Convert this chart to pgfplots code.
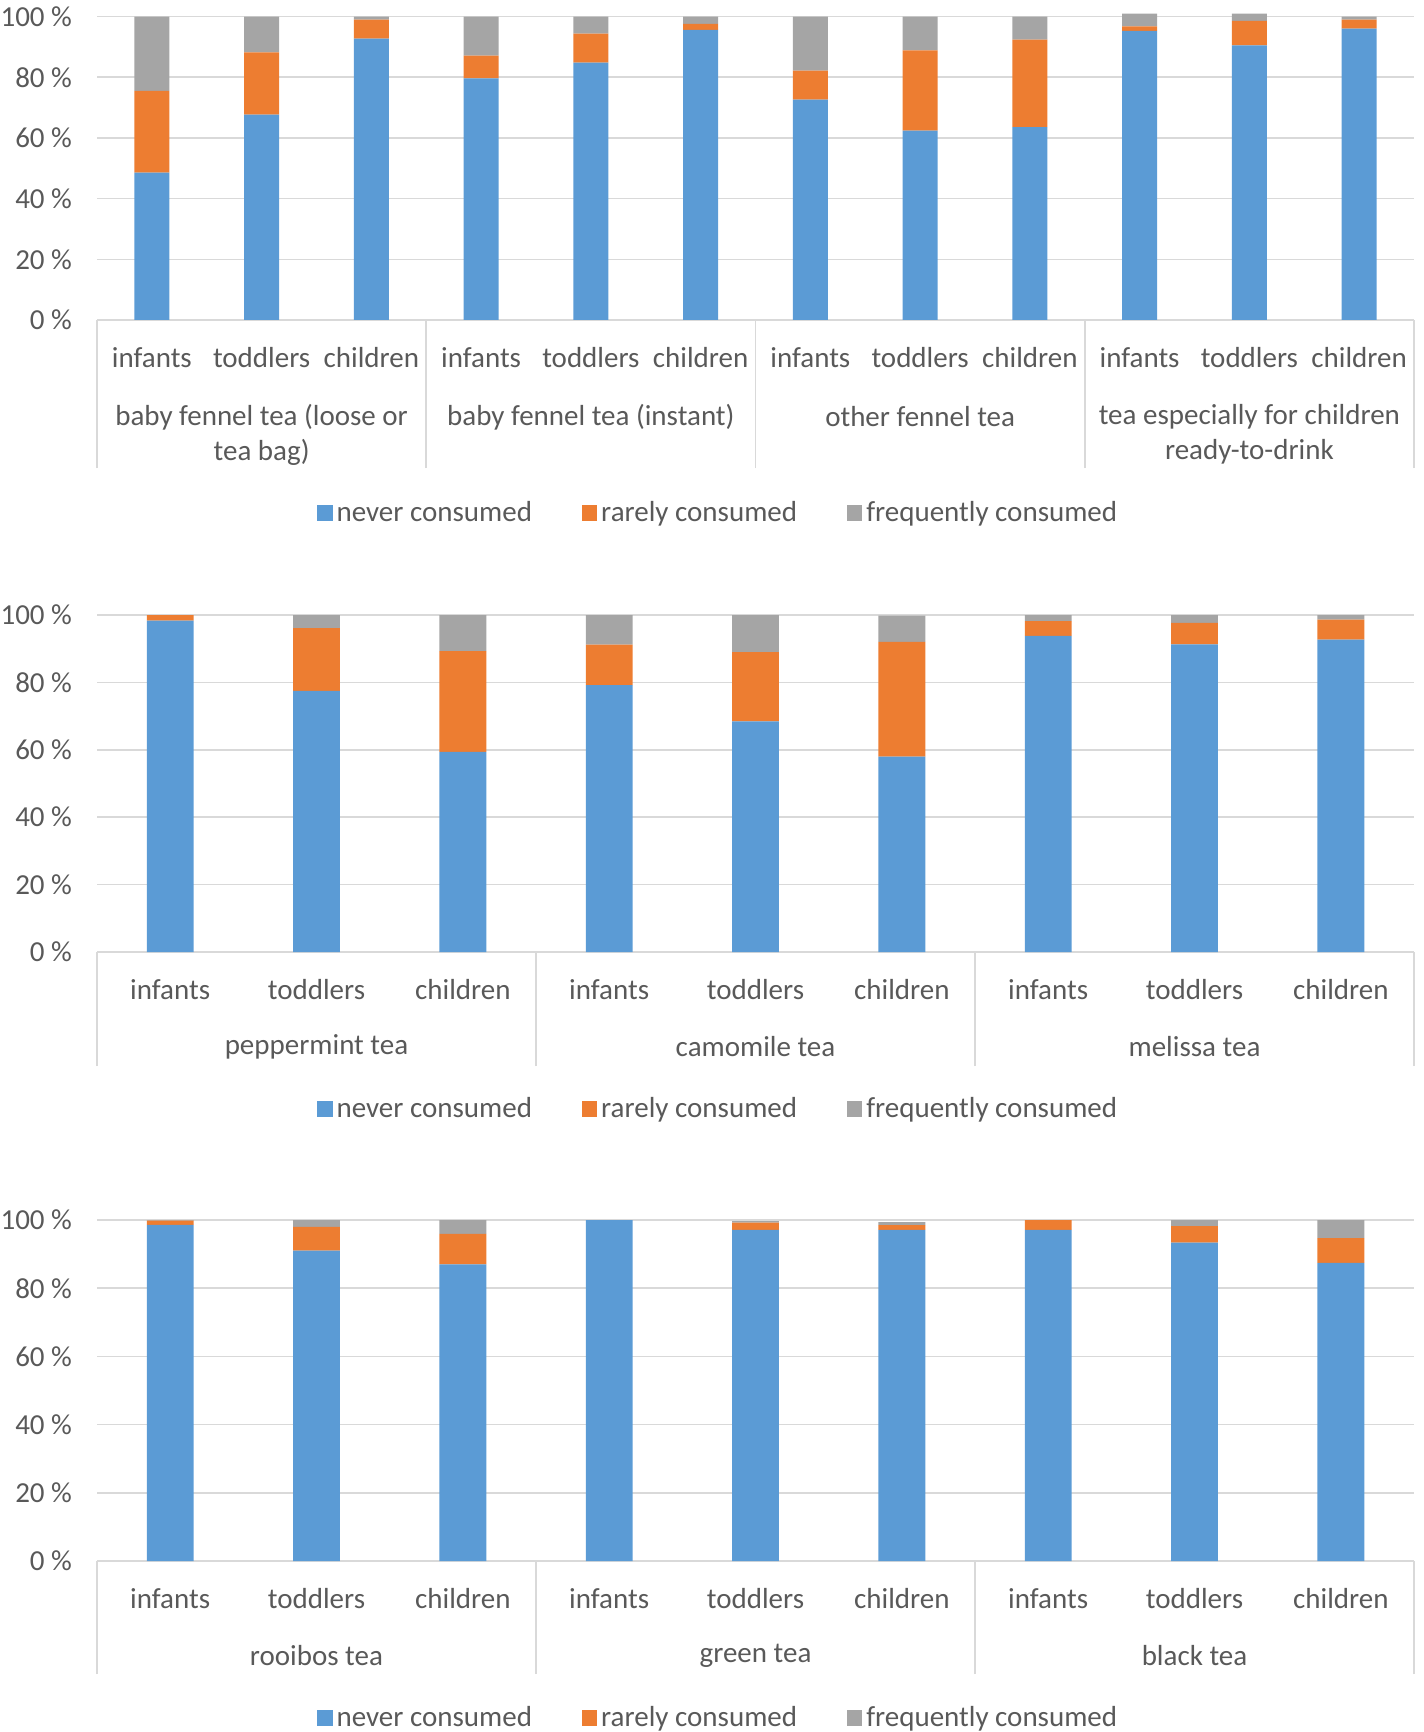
\documentclass[border=0pt]{standalone}
\usepackage{fontspec}
\setmainfont{Carlito}
\usepackage{pgfplots}
\pgfplotsset{compat=1.18}
\usepackage{pgfplotstable}

\definecolor{cblue}{HTML}{5B9BD5}
\definecolor{corange}{HTML}{ED7D31}
\definecolor{cgray}{HTML}{A5A5A5}
\definecolor{gridgray}{HTML}{D9D9D9}
\definecolor{txtgray}{HTML}{595959}

% never / rarely / frequently consumed, in %
\pgfplotstableread{
x never rarely freq
0  48.6 26.9 24.5
1  67.7 20.5 11.8
2  92.7  6.3  1.0
3  79.6  7.5 12.9
4  84.8  9.6  5.6
5  95.6  2.0  2.4
6  72.6  9.6 17.8
7  62.4 26.5 11.1
8  63.6 28.8  7.6
9  95.3  1.5  4.2
10 90.5  8.1  2.4
11 96.0  3.0  1.0
}\fenneltab

\pgfplotstableread{
x never rarely freq
0 98.3  1.7  0.0
1 77.5 18.6  3.9
2 59.4 29.9 10.7
3 79.2 12.0  8.8
4 68.4 20.6 11.0
5 58.0 34.0  7.8
6 93.8  4.4  1.8
7 91.3  6.4  2.3
8 92.7  5.9  1.4
}\herbtab

\pgfplotstableread{
x never rarely freq
0  98.6 1.2 0.2
1  91.0 7.0 2.0
2  87.0 8.9 4.1
3 100.0 0.0 0.0
4  97.1 2.1 0.5
5  97.1 1.4 0.9
6  97.1 2.9 0.0
7  93.4 4.8 1.8
8  87.4 7.3 5.3
}\othertab

\newcommand{\lblfont}{\fontsize{14.5}{17.5}\selectfont}

\tikzset{grp/.style={font=\lblfont, text=txtgray, align=center, anchor=center}}

\pgfplotsset{
  teachart/.style={
    scale only axis,
    width=658.5pt,
    anchor=south west,
    ymin=0, ymax=100,
    ybar stacked,
    bar width=0.32,
    clip=false,
    axis line style={draw=none},
    ymajorgrids,
    grid style={gridgray, line width=0.8pt},
    ytick={0,20,...,100},
    yticklabels={0 \%,20 \%,40 \%,60 \%,80 \%,100 \%},
    major tick length=0pt,
    xtick pos=left, ytick pos=left,
    tick label style={font=\lblfont, text=txtgray},
    yticklabel style={xshift=-9pt},
    xticklabel style={anchor=center, yshift=-19pt},
    extra x tick style={major tick length=#1, tick align=outside,
      tick style={gridgray, line width=0.8pt}},
    extra x tick labels={},
    legend columns=3,
    legend style={draw=none, font=\lblfont, text=txtgray, anchor=center,
      /tikz/every even column/.append style={column sep=23pt}},
    legend image code/.code={\fill[##1] (0pt,-3.8pt) rectangle (7.6pt,3.8pt);},
  },
}

\begin{document}
\begin{tikzpicture}
\path[use as bounding box] (0,0) rectangle (711.5pt,-866pt);

% --- fennel teas ---
\begin{axis}[teachart=74pt,
  at={(48.5pt,-160pt)}, height=151.7pt,
  xmin=-0.5, xmax=11.5,
  xtick={0,...,11},
  xticklabels={infants,toddlers,children,infants,toddlers,children,infants,toddlers,children,infants,toddlers,children},
  extra x ticks={-0.5,2.5,5.5,8.5,11.5},
  legend style={at={(0.4725,0)}, yshift=-96.5pt},
]
\addplot[fill=cblue, draw=none] table[x=x, y=never] {\fenneltab};
\addplot[fill=corange, draw=none] table[x=x, y=rarely] {\fenneltab};
\addplot[fill=cgray, draw=none] table[x=x, y=freq] {\fenneltab};
\legend{never consumed, rarely consumed, frequently consumed}
\node[grp] at (axis cs:1,0) [yshift=-57.3pt] {baby fennel tea (loose or\\tea bag)};
\node[grp] at (axis cs:4,0) [yshift=-48.5pt] {baby fennel tea (instant)};
\node[grp] at (axis cs:7,0) [yshift=-48.5pt] {other fennel tea};
\node[grp] at (axis cs:10,0) [yshift=-57.3pt] {tea especially for children\\ready-to-drink};
\end{axis}

% --- herbal teas ---
\begin{axis}[teachart=57pt,
  at={(48.5pt,-476pt)}, height=168.5pt,
  xmin=-0.5, xmax=8.5,
  xtick={0,...,8},
  xticklabels={infants,toddlers,children,infants,toddlers,children,infants,toddlers,children},
  extra x ticks={-0.5,2.5,5.5,8.5},
  legend style={at={(0.4725,0)}, yshift=-78.5pt},
]
\addplot[fill=cblue, draw=none] table[x=x, y=never] {\herbtab};
\addplot[fill=corange, draw=none] table[x=x, y=rarely] {\herbtab};
\addplot[fill=cgray, draw=none] table[x=x, y=freq] {\herbtab};
\legend{never consumed, rarely consumed, frequently consumed}
\node[grp] at (axis cs:1,0) [yshift=-47.5pt] {peppermint tea};
\node[grp] at (axis cs:4,0) [yshift=-47.5pt] {camomile tea};
\node[grp] at (axis cs:7,0) [yshift=-47.5pt] {melissa tea};
\end{axis}

% --- other teas ---
\begin{axis}[teachart=56.5pt,
  at={(48.5pt,-780.5pt)}, height=170.5pt,
  xmin=-0.5, xmax=8.5,
  xtick={0,...,8},
  xticklabels={infants,toddlers,children,infants,toddlers,children,infants,toddlers,children},
  extra x ticks={-0.5,2.5,5.5,8.5},
  legend style={at={(0.4725,0)}, yshift=-78.5pt},
]
\addplot[fill=cblue, draw=none] table[x=x, y=never] {\othertab};
\addplot[fill=corange, draw=none] table[x=x, y=rarely] {\othertab};
\addplot[fill=cgray, draw=none] table[x=x, y=freq] {\othertab};
\legend{never consumed, rarely consumed, frequently consumed}
\node[grp] at (axis cs:1,0) [yshift=-47.5pt] {rooibos tea};
\node[grp] at (axis cs:4,0) [yshift=-47.5pt] {green tea};
\node[grp] at (axis cs:7,0) [yshift=-47.5pt] {black tea};
\end{axis}
\end{tikzpicture}
\end{document}
